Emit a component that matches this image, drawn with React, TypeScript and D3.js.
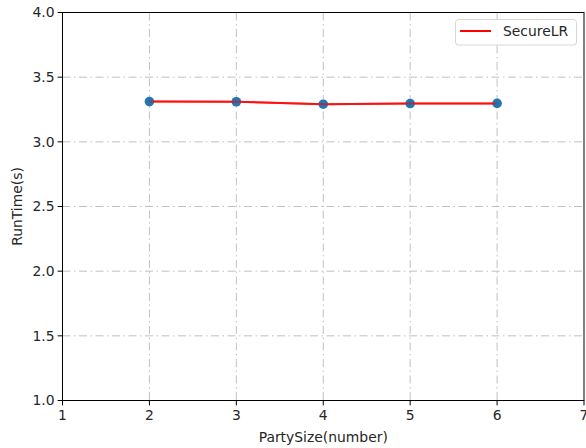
import React from "react";
import * as d3 from "d3";

const partySizes = [2, 3, 4, 5, 6];
const runTimes = [3.311, 3.31, 3.291, 3.296, 3.297];
const xTicks = [1, 2, 3, 4, 5, 6, 7];
const yTicks = [1.0, 1.5, 2.0, 2.5, 3.0, 3.5, 4.0];
const seriesName = "SecureLR";

const W = 586, H = 448;
const M = { left: 62.5, right: 584, top: 12.5, bottom: 400.5 };
const FONT = "DejaVu Sans, sans-serif";
const FS = 13.9;

export default function App() {
  const x = d3.scaleLinear().domain([1, 7]).range([M.left, M.right]);
  const y = d3.scaleLinear().domain([1, 4]).range([M.bottom, M.top]);
  const line = d3.line<number>().x((_, i) => x(partySizes[i])).y((d) => y(d));
  const dash = "8,3.5,1.5,3.5";
  return (
    <svg width={W} height={H} style={{ position: "absolute", left: 0, top: 0, background: "#fff" }}>
      <rect x={M.left} y={M.top} width={M.right - M.left} height={M.bottom - M.top} fill="#fff" />
      {xTicks.slice(1, -1).map((t) => (
        <line key={"gx" + t} x1={x(t)} x2={x(t)} y1={M.top} y2={M.bottom} stroke="#b0b0b0" strokeWidth={0.8} strokeDasharray={dash} />
      ))}
      {yTicks.slice(1, -1).map((t) => (
        <line key={"gy" + t} x1={M.left} x2={M.right} y1={y(t)} y2={y(t)} stroke="#b0b0b0" strokeWidth={0.8} strokeDasharray={dash} />
      ))}
      <path d={line(runTimes) || ""} fill="none" stroke="#ff0000" strokeWidth={2} strokeOpacity={0.85} />
      {runTimes.map((v, i) => (
        <circle key={i} cx={x(partySizes[i])} cy={y(v)} r={4.8} fill="#1f77b4" />
      ))}
      <path d={line(runTimes) || ""} fill="none" stroke="#ff0000" strokeWidth={2} strokeOpacity={0.6} />
      <rect x={M.left} y={M.top} width={M.right - M.left} height={M.bottom - M.top} fill="none" stroke="#000" strokeWidth={1} />
      {xTicks.map((t) => (
        <g key={"tx" + t}>
          <line x1={x(t)} x2={x(t)} y1={M.bottom} y2={M.bottom + 4.9} stroke="#000" strokeWidth={1} />
          <text x={x(t)} y={M.bottom + 19} textAnchor="middle" fontFamily={FONT} fontSize={FS} fill="#262626">{t}</text>
        </g>
      ))}
      {yTicks.map((t) => (
        <g key={"ty" + t}>
          <line x1={M.left - 4.9} x2={M.left} y1={y(t)} y2={y(t)} stroke="#000" strokeWidth={1} />
          <text x={M.left - 8} y={y(t)} dy="0.35em" textAnchor="end" fontFamily={FONT} fontSize={FS} fill="#262626">{t.toFixed(1)}</text>
        </g>
      ))}
      <text x={(M.left + M.right) / 2} y={442} textAnchor="middle" fontFamily={FONT} fontSize={FS} fill="#262626">PartySize(number)</text>
      <text transform={`translate(22,${(M.top + M.bottom) / 2}) rotate(-90)`} textAnchor="middle" fontFamily={FONT} fontSize={FS} fill="#262626">RunTime(s)</text>
      <g>
        <rect x={455.5} y={19.5} width={121} height={25.5} rx={3} fill="#fff" fillOpacity={0.8} stroke="#d6d6d6" strokeWidth={1} />
        <line x1={460} x2={491} y1={31} y2={31} stroke="#ff0000" strokeWidth={2} />
        <text x={503} y={31} dy="0.35em" fontFamily={FONT} fontSize={FS} fill="#262626">{seriesName}</text>
      </g>
    </svg>
  );
}
